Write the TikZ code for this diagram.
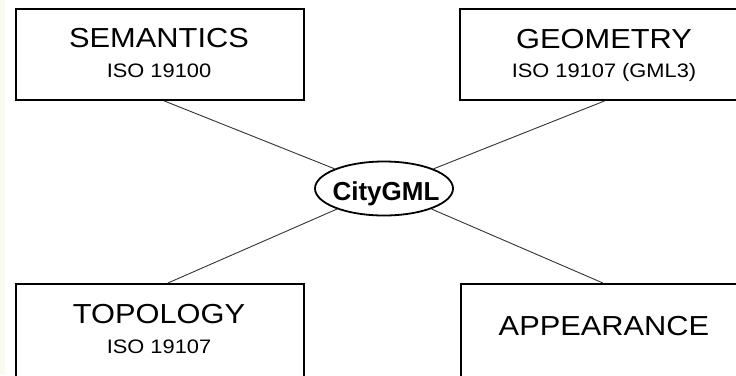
\documentclass[tikz,border=0pt]{standalone}
\usepackage{fontspec}
\setmainfont{Liberation Sans}
\newfontfamily\boxfont{Liberation Sans}[FakeStretch=1.12]
\usetikzlibrary{shapes.geometric,calc}
\definecolor{stripcol}{RGB}{250,250,240}
\begin{document}
\begin{tikzpicture}[x=1pt,y=-1pt,
  box/.style={draw=black,line width=1.8pt,minimum width=288pt,minimum height=91pt,inner sep=0pt,anchor=north west},
  title/.style={anchor=base,inner sep=0pt,font=\boxfont\fontsize{27.5}{30}\selectfont},
  sub/.style={anchor=base,inner sep=0pt,font=\boxfont\fontsize{19.5}{22}\selectfont},
  link/.style={draw=black!80,line width=0.9pt}]
\clip (0,0) rectangle (736,375);
\fill[white] (0,0) rectangle (736,375);
\fill[stripcol] (0,0) rectangle (5,375);
% boxes
\node[box] (sem) at (15,8) {};
\node[box,minimum width=290pt] (geo) at (459,8) {};
\node[box,minimum height=110pt] (topo) at (15,283) {};
\node[box,minimum width=290pt,minimum height=110pt] (app) at (460,283) {};
% centre
\node[draw=black,ellipse,line width=1.8pt,minimum width=138pt,minimum height=54pt,inner sep=0pt] (city) at (384,188.5) {};
\node[anchor=base,inner sep=0pt,font=\bfseries\fontsize{26}{28}\selectfont] (citytext) at (386,200) {CityGML};
% texts
\node[title] (semt) at (159,47) {SEMANTICS};
\node[sub] (sems) at (159,77) {ISO 19100};
\node[title] (geot) at (604,48) {GEOMETRY};
\node[sub] (geos) at (604,77) {ISO 19107 (GML3)};
\node[title] (topot) at (159,323) {TOPOLOGY};
\node[sub] (topos) at (159,353) {ISO 19107};
\node[title] (appt) at (604,335) {APPEARANCE};
% connectors
\draw[link] ($(sem.south)+(4,0)$) -- (city);
\draw[link] (geo.south) -- (city);
\draw[link] ($(topo.north)+(8,0)$) -- (city);
\draw[link] ($(app.north)+(-3,0)$) -- (city);
\end{tikzpicture}
\end{document}
